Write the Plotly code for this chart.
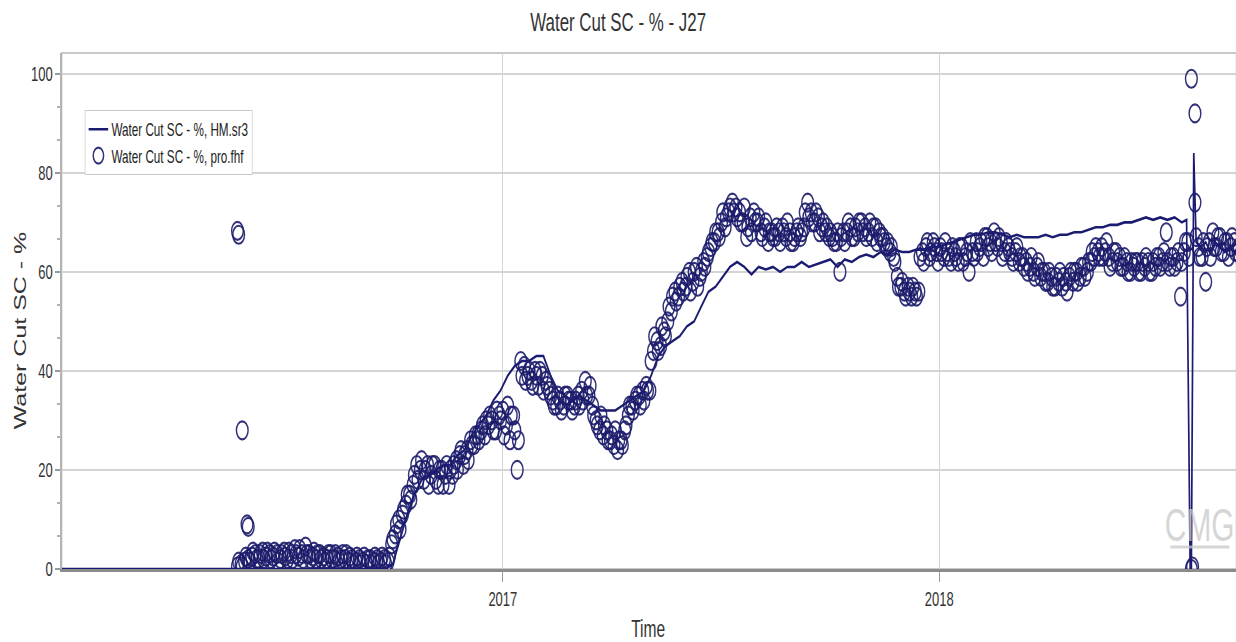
import pandas as pd
import plotly.graph_objects as go

# ---------------------------------------------------------------------------
# Observed water cut (pro.fhf)
# Primary readings: every 3 days starting 2016-05-24
# Secondary readings: every 3 days starting 2016-05-25
# ---------------------------------------------------------------------------
obs_start = "2016-05-24"
obs_2016 = [
    0.5, 1.0, 1.5, 2.0, 2.5, 3.0, 2.0, 3.5, 2.5, 3.0,
    2.5, 3.0, 2.0, 3.5, 2.0, 3.0, 4.0, 2.5, 3.0, 4.5,
    3.0, 2.5, 2.0, 3.0, 2.5, 2.0, 3.0, 2.0, 2.5, 2.0,
    2.0, 1.5, 2.0, 1.5, 2.0, 1.5, 1.0, 2.0, 1.5, 2.0,
    1.5, 2.0, 1.5, 5.0, 7.0, 10.0, 11.0, 13.0, 15.0, 17.0,
    21.0, 20.0, 18.0, 21.0, 19.0, 21.0, 17.0, 20.0, 19.0, 17.0,
    19.0, 22.0, 23.0, 21.0, 24.0, 26.0, 25.0, 27.0, 28.0, 27.0,
    29.0, 30.0, 28.0, 31.0, 32.0, 29.0, 26.0, 31.0, 20.0, 42.0,
]
obs_2017 = [
    41.0, 39.0, 38.0, 40.0, 37.0, 39.0, 38.0, 36.0, 34.0, 33.0,
    34.0, 33.0, 35.0, 34.0, 33.0, 35.0, 36.0, 38.0, 35.0, 33.0,
    30.0, 28.0, 27.0, 28.0, 26.0, 25.0, 24.0, 26.0, 28.0, 31.0,
    33.0, 34.0, 35.0, 36.0, 37.0, 36.0, 44.0, 46.0, 45.0, 48.0,
    50.0, 52.0, 56.0, 55.0, 58.0, 57.0, 60.0, 58.0, 61.0, 59.0,
    62.0, 63.0, 65.0, 66.0, 68.0, 70.0, 69.0, 72.0, 74.0, 73.0,
    72.0, 70.0, 67.0, 71.0, 72.0, 70.0, 68.0, 69.0, 66.0, 68.0,
    67.0, 68.0, 69.0, 67.0, 68.0, 66.0, 68.0, 67.0, 69.0, 74.0,
    72.0, 70.0, 71.0, 69.0, 68.0, 67.0, 67.0, 66.0, 60.0, 68.0,
    68.0, 69.0, 67.0, 68.0, 70.0, 69.0, 68.0, 67.0, 69.0, 68.0,
    67.0, 65.0, 64.0, 63.0, 59.0, 57.0, 56.0, 57.0, 55.0, 56.0,
    56.0, 64.0, 65.0, 63.0, 66.0, 64.0, 65.0, 63.0, 64.0, 62.0,
]
obs_2018 = [
    64.0, 62.0, 65.0, 63.0, 60.0, 64.0, 66.0, 65.0, 63.0, 67.0,
    66.0, 68.0, 65.0, 66.0, 64.0, 65.0, 63.0, 64.0, 62.0, 63.0,
    62.0, 61.0, 60.0, 61.0, 59.0, 60.0, 58.0, 59.0, 57.0, 58.0,
    57.0, 58.0, 59.0, 58.0, 60.0, 59.0, 61.0, 60.0, 62.0, 63.0,
    64.0, 65.0, 64.0, 63.0, 62.0, 64.0, 63.0, 61.0, 62.0, 60.0,
    61.0, 62.0, 60.0, 61.0, 62.0, 60.0, 61.0, 63.0, 62.0, 68.0,
    61.0, 63.0, 62.0, 55.0, 64.0, 66.0, 0.0, 74.0, 65.0, 63.0,
    58.0, 66.0, 68.0, 65.0, 67.0, 64.0, 66.0, 65.0, 66.0, 64.0,
]

obs_b_start = "2016-05-25"
obs_b_2016 = [
    1.5, 0.5, 2.5, 1.5, 3.5, 2.0, 3.0, 2.0, 3.5, 2.0,
    3.5, 1.5, 3.0, 2.5, 3.5, 2.0, 3.0, 4.0, 2.0, 3.0,
    2.0, 3.5, 3.0, 2.0, 1.5, 3.0, 2.0, 3.0, 1.5, 3.0,
    3.0, 2.5, 1.0, 2.5, 1.0, 2.5, 2.0, 1.0, 2.5, 1.0,
    2.5, 1.0, 2.5, 6.0, 9.0, 8.0, 12.0, 15.0, 14.0, 19.0,
    18.0, 22.0, 20.0, 17.0, 21.0, 18.0, 20.0, 17.0, 21.0, 20.0,
    21.0, 20.0, 24.0, 23.0, 22.0, 25.0, 27.0, 26.0, 29.0, 30.0,
    31.0, 28.0, 32.0, 30.0, 27.0, 33.0, 31.0, 28.0, 26.0, 39.0,
]
obs_b_2017 = [
    38.0, 40.0, 37.0, 39.0, 40.0, 36.0, 37.0, 35.0, 33.0, 35.0,
    32.0, 35.0, 34.0, 32.0, 34.0, 33.0, 34.0, 35.0, 37.0, 31.0,
    29.0, 31.0, 29.0, 26.0, 27.0, 28.0, 26.0, 25.0, 29.0, 33.0,
    32.0, 35.0, 33.0, 34.0, 36.0, 42.0, 47.0, 44.0, 49.0, 47.0,
    53.0, 55.0, 54.0, 57.0, 56.0, 59.0, 56.0, 60.0, 57.0, 60.0,
    61.0, 64.0, 66.0, 68.0, 67.0, 72.0, 71.0, 73.0, 72.0, 71.0,
    70.0, 73.0, 69.0, 68.0, 70.0, 71.0, 67.0, 70.0, 68.0, 67.0,
    69.0, 66.0, 68.0, 70.0, 66.0, 67.0, 69.0, 68.0, 72.0, 71.0,
    70.0, 72.0, 68.0, 70.0, 69.0, 68.0, 66.0, 68.0, 67.0, 66.0,
    70.0, 67.0, 69.0, 70.0, 68.0, 67.0, 70.0, 69.0, 66.0, 67.0,
    66.0, 66.0, 65.0, 62.0, 57.0, 58.0, 55.0, 56.0, 57.0, 55.0,
    63.0, 62.0, 66.0, 64.0, 65.0, 62.0, 64.0, 66.0, 63.0, 65.0,
]
obs_b_2018 = [
    63.0, 65.0, 62.0, 64.0, 66.0, 63.0, 64.0, 66.0, 67.0, 65.0,
    64.0, 66.0, 67.0, 63.0, 66.0, 64.0, 62.0, 65.0, 63.0, 61.0,
    60.0, 63.0, 59.0, 62.0, 60.0, 58.0, 60.0, 57.0, 59.0, 60.0,
    59.0, 56.0, 60.0, 60.0, 58.0, 61.0, 59.0, 62.0, 64.0, 65.0,
    63.0, 63.0, 66.0, 61.0, 64.0, 62.0, 61.0, 63.0, 60.0, 62.0,
    62.0, 60.0, 62.0, 63.0, 60.0, 62.0, 63.0, 61.0, 64.0, 62.0,
    63.0, 61.0, 64.0, 62.0, 66.0, 63.0, 0.5, 67.0, 63.0, 66.0,
    65.0, 63.0, 65.0, 67.0, 64.0, 66.0, 63.0, 67.0, 64.0, 65.0,
]

# isolated readings away from the main trend
spike_dates = ["2016-05-24", "2016-05-25", "2016-05-28", "2016-06-01",
               "2016-06-02", "2018-07-31", "2018-08-03"]
spike_vals = [68.3, 67.5, 28.0, 9.0, 8.5, 99.0, 92.0]

# ---------------------------------------------------------------------------
# Simulated water cut (HM.sr3)
# ---------------------------------------------------------------------------
sim_head_dates = ["2015-12-20", "2016-09-25"]
sim_head_vals = [0.0, 0.0]

sim_start = "2016-10-01"          # 6-day output interval
sim_vals = [
    1, 6, 11, 15, 18, 19, 20, 21, 21, 23,
    24, 27, 29, 31, 34, 36, 39, 41, 42, 42,
    43, 43, 39, 36, 35, 34, 35, 34, 33, 32,
    32, 32, 33, 34, 35, 36, 39, 43, 45, 46,
    47, 49, 50, 53, 56, 57, 59, 61, 62, 61,
    59.5, 61, 60.5, 61, 60, 61, 61, 62, 61, 61.5,
    62, 62.5, 61, 62.5, 62, 63, 63.5, 63, 64, 63.5,
    64.5, 64, 64, 64.5, 64.5, 65, 65, 65.5, 66, 66.5,
    67, 67.5, 67.5, 68, 68, 67.5, 67, 67.5, 67, 67,
    67, 67.5, 67, 67.5, 67.5, 68, 68, 68.5, 69, 69,
    69.5, 69.5, 70, 70, 70.5, 71, 70.5, 71, 70.5, 71,
    70,
]

sim_tail_dates = ["2018-07-27", "2018-07-30", "2018-07-31", "2018-08-02",
                  "2018-08-04", "2018-08-08", "2018-08-12", "2018-08-16",
                  "2018-08-20", "2018-08-24", "2018-08-28", "2018-09-01",
                  "2018-09-05", "2018-09-09"]
sim_tail_vals = [70.5, 0.0, 0.0, 84.0, 66.0, 65.0, 66.0, 64.0,
                 66.0, 65.0, 64.0, 65.0, 64.0, 65.0]

x_tick_vals = ["2017-01-01", "2018-01-01"]
x_tick_text = ["2017", "2018"]
y_tick_vals = [0, 20, 40, 60, 80, 100]

# ---------------------------------------------------------------------------
# assemble series
# ---------------------------------------------------------------------------
obs_a = obs_2016 + obs_2017 + obs_2018
obs_b = obs_b_2016 + obs_b_2017 + obs_b_2018
obs_x = (list(pd.date_range(obs_start, periods=len(obs_a), freq="3D"))
         + list(pd.date_range(obs_b_start, periods=len(obs_b), freq="3D"))
         + list(pd.to_datetime(spike_dates)))
obs_y = obs_a + obs_b + spike_vals

sim_x = (list(pd.to_datetime(sim_head_dates))
         + list(pd.date_range(sim_start, periods=len(sim_vals), freq="6D"))
         + list(pd.to_datetime(sim_tail_dates)))
sim_y = sim_head_vals + sim_vals + sim_tail_vals

# The chart is laid out on a wider canvas and compressed horizontally
# when the page loads, giving the narrow lettering and oval markers.
OUT_W, OUT_H = 1236, 642
SQUEEZE = 0.65
W = round(OUT_W / SQUEEZE)

NAVY = "#1b1b72"
FONT = "Liberation Sans, Arial, sans-serif"
GRID = "#d4d4d4"

fig = go.Figure()

fig.add_trace(go.Scatter(
    x=obs_x, y=obs_y, mode="markers",
    name="Water Cut SC - %, pro.fhf",
    marker=dict(symbol="circle-open", size=18,
                color="rgba(28,28,108,0.9)",
                line=dict(width=2.2, color="rgba(28,28,108,0.9)")),
    legendrank=2,
))

fig.add_trace(go.Scatter(
    x=sim_x, y=sim_y, mode="lines",
    name="Water Cut SC - %, HM.sr3",
    line=dict(color=NAVY, width=2.6),
    legendrank=1,
))

plot_left = 62 / SQUEEZE

fig.update_layout(
    width=W, height=OUT_H,
    margin=dict(l=plot_left, r=0, t=53, b=73, autoexpand=False),
    paper_bgcolor="white", plot_bgcolor="white",
    font=dict(family=FONT, color="#333333"),
    title=dict(text="Water Cut SC - % - J27", x=0.5, xref="container",
               xanchor="center", y=1 - 22 / OUT_H, yref="container",
               yanchor="middle", font=dict(size=26, color="#333333")),
    showlegend=True,
    legend=dict(x=(85 - 62) / 1174, y=(569 - 110) / 516,
                xanchor="left", yanchor="top",
                bgcolor="white", bordercolor="#c8c8c8", borderwidth=1,
                font=dict(size=18, color="#222222"),
                itemsizing="trace", tracegroupgap=0),
    xaxis=dict(
        type="date",
        range=["2015-12-29", "2018-09-06 14:00"],
        tickmode="array", tickvals=x_tick_vals, ticktext=x_tick_text,
        ticks="outside", ticklen=10, tickwidth=2, tickcolor="#9a9a9a",
        tickfont=dict(size=20, color="#333333"),
        showgrid=True, gridcolor=GRID, gridwidth=2,
        showline=True, linecolor="#8c8c8c", linewidth=3,
        zeroline=False,
    ),
    yaxis=dict(
        range=[0, 104.2],
        tickmode="array", tickvals=y_tick_vals,
        ticks="outside", ticklen=8, tickwidth=2, tickcolor="#9a9a9a",
        tickfont=dict(size=20, color="#333333"),
        showgrid=True, gridcolor=GRID, gridwidth=2,
        showline=True, linecolor="#b4b4b4", linewidth=2,
        zeroline=False,
        minor=dict(tickmode="linear", tick0=0, dtick=20 / 3,
                   ticks="outside", ticklen=5, tickcolor="#b0b0b0",
                   showgrid=False),
    ),
    shapes=[
        dict(type="rect", xref="paper", yref="paper", x0=0, x1=1, y0=0, y1=1,
             line=dict(color="#c8c8c8", width=2), layer="below"),
        dict(type="line", xref="paper", yref="paper",
             x0=(1170 - 62) / 1174, x1=(1229 - 62) / 1174,
             y0=(569 - 547) / 516, y1=(569 - 547) / 516,
             line=dict(color="rgba(200,200,200,0.75)", width=3)),
    ],
    annotations=[
        dict(text="Water Cut SC - %", textangle=-90, showarrow=False,
             xref="paper", yref="paper", x=(20 - 62) / 1174,
             y=(569 - 330) / 516, xanchor="center", yanchor="middle",
             font=dict(size=25, color="#333333")),
        dict(text="Time", showarrow=False, xref="paper", yref="paper",
             x=(648 - 62) / 1174, y=(569 - 628) / 516,
             xanchor="center", yanchor="middle",
             font=dict(size=24, color="#333333")),
        dict(text="CMG", showarrow=False, xref="paper", yref="paper",
             x=(1199 - 62) / 1174, y=(569 - 525) / 516,
             xanchor="center", yanchor="middle",
             font=dict(size=46, color="rgba(200,200,200,0.75)")),
    ],
)

squeeze_js = (
    "var gd=document.getElementById('{plot_id}');"
    "gd.style.transformOrigin='0 0';"
    "gd.style.transform='scaleX(" + str(SQUEEZE) + ")';"
    "document.documentElement.style.overflow='hidden';"
    "document.body.style.overflow='hidden';"
    "document.body.style.margin='0';"
)

fig.write_html("out.html", post_script=squeeze_js,
               config={"displayModeBar": False})
